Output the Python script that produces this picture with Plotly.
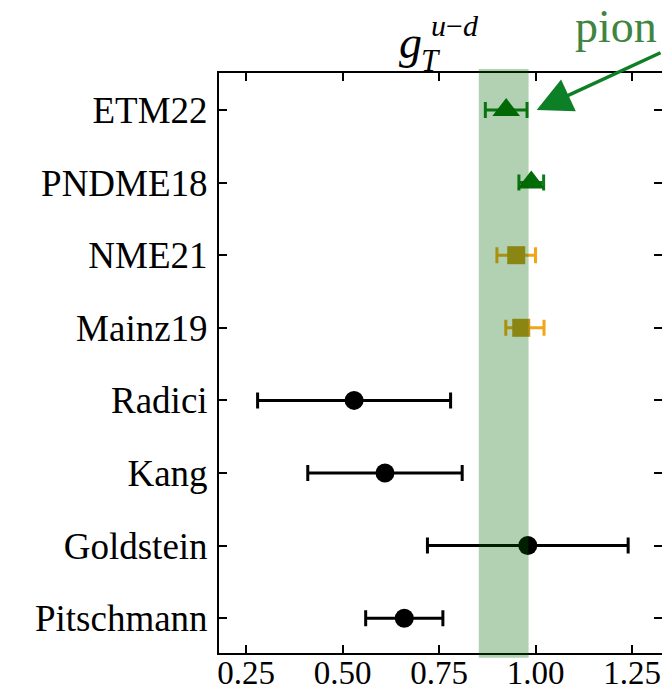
import plotly.graph_objects as go

# Determinations of the isovector tensor charge, listed top to bottom
names = ["ETM22", "PNDME18", "NME21", "Mainz19", "Radici", "Kang", "Goldstein", "Pitschmann"]
central = [0.924, 0.989, 0.950, 0.963, 0.53, 0.61, 0.98, 0.66]
err_minus = [0.054, 0.032, 0.050, 0.040, 0.25, 0.20, 0.26, 0.10]
err_plus = [0.054, 0.032, 0.050, 0.059, 0.25, 0.20, 0.26, 0.10]
group = ["pion", "pion", "nucleon", "nucleon", "pheno", "pheno", "pheno", "pheno"]

# Vertical band
band_lo, band_hi = 0.853, 0.982

styles = {
    "pion": dict(symbol="triangle-up", size=24, color="#036b08", bar="#0f7a18"),
    "nucleon": dict(symbol="square", size=18, color="#c7961c", bar="#f2a516"),
    "pheno": dict(symbol="circle", size=19, color="#000000", bar="#000000"),
}

W, H = 662, 692
ML, MR, MT, MB = 219, 0, 73, 39
PW, PH = W - ML - MR, H - MT - MB

SERIF = "Liberation Serif"

fig = go.Figure()
for g, st in styles.items():
    idx = [i for i, gg in enumerate(group) if gg == g]
    fig.add_trace(go.Scatter(
        x=[central[i] for i in idx],
        y=[names[i] for i in idx],
        mode="markers",
        marker=dict(symbol=st["symbol"], size=st["size"], color=st["color"], line=dict(width=0)),
        error_x=dict(type="data", symmetric=False,
                     array=[err_plus[i] for i in idx],
                     arrayminus=[err_minus[i] for i in idx],
                     color=st["bar"], thickness=3, width=8),
        showlegend=False,
        cliponaxis=False,
    ))

fig.add_shape(type="rect", xref="x", yref="paper",
              x0=band_lo, x1=band_hi, y0=-0.008, y1=1.007,
              fillcolor="rgba(0,100,0,0.3)", line=dict(width=0), layer="above")

def px_x(p):
    return (p - ML) / PW

def px_y(p):
    return (H - MB - p) / PH

# Title g_T^{u-d}
fig.add_annotation(text="<i>g</i>", xref="paper", yref="paper", x=px_x(410), y=px_y(42),
                   showarrow=False, font=dict(family=SERIF, size=46, color="black"),
                   xanchor="center", yanchor="middle")
fig.add_annotation(text="<i>T</i>", xref="paper", yref="paper", x=px_x(431), y=px_y(61),
                   showarrow=False, font=dict(family=SERIF, size=31, color="black"),
                   xanchor="center", yanchor="middle")
fig.add_annotation(text="<i>u</i>\u2212<i>d</i>", xref="paper", yref="paper", x=px_x(455), y=px_y(25),
                   showarrow=False, font=dict(family=SERIF, size=30, color="black"),
                   xanchor="center", yanchor="middle")

# "pion" label with arrow pointing at the ETM22 point
fig.add_annotation(text="pion", xref="paper", yref="paper", x=px_x(573), y=px_y(27),
                   showarrow=False, font=dict(family=SERIF, size=46, color="#3f853f"),
                   xanchor="left", yanchor="middle")
fig.add_annotation(x=central[0] + err_plus[0] + 0.025, y=names[0], xref="x", yref="y",
                   ax=140, ay=-58, text="", showarrow=True,
                   arrowhead=2, arrowsize=2.0, arrowwidth=3.5, arrowcolor="#0d7f26")

fig.update_layout(
    width=W, height=H,
    margin=dict(l=ML, r=MR, t=MT, b=MB, autoexpand=False),
    plot_bgcolor="white", paper_bgcolor="white",
    font=dict(family=SERIF, color="black"),
)
fig.update_xaxes(
    automargin=False,
    range=[0.18, 0.18 + PW / 386.0],
    tickvals=[0.25, 0.5, 0.75, 1.0, 1.25],
    ticktext=["0.25", "0.50", "0.75", "1.00", "1.25"],
    ticks="inside", ticklen=8, tickwidth=1.5, tickcolor="black",
    showline=True, linewidth=2, linecolor="black", mirror="ticks",
    showgrid=False, zeroline=False,
    tickfont=dict(family=SERIF, size=33, color="black"),
    ticklabelstandoff=-11,
    ticklabeloverflow="allow",
)
fig.update_yaxes(
    automargin=False,
    type="category",
    categoryorder="array", categoryarray=names[::-1],
    range=[-0.48, 7.51],
    ticks="inside", ticklen=8, tickwidth=1.5, tickcolor="black",
    showline=True, linewidth=2, linecolor="black", mirror="ticks",
    showgrid=False, zeroline=False,
    tickfont=dict(family=SERIF, size=37, color="black"),
    ticklabelstandoff=2,
)

fig.write_html("out.html")
